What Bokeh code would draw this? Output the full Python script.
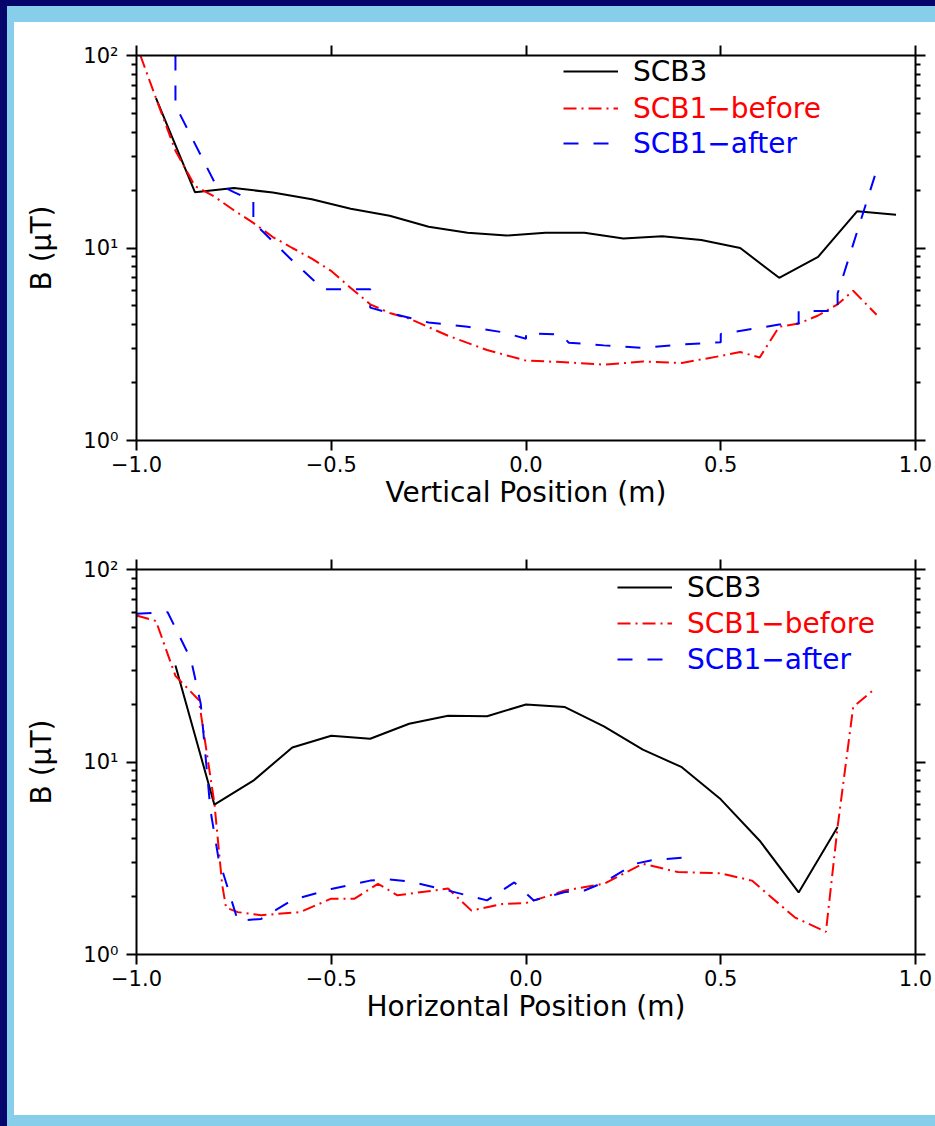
from bokeh.plotting import figure
from bokeh.models import (Range1d, LinearAxis, LogAxis, FixedTicker,
                          CustomJSTickFormatter, Legend, LegendItem, Spacer)
from bokeh.layouts import column, row
from bokeh.embed import file_html
from bokeh.resources import INLINE

# ---------------- data: vertical scan (top panel) ----------------
v_scb3_x = [-0.95, -0.85, -0.75, -0.65, -0.55, -0.45, -0.35, -0.25, -0.15, -0.05,
            0.05, 0.15, 0.25, 0.35, 0.45, 0.55, 0.65, 0.75, 0.85, 0.95]
v_scb3_b = [60, 19.5, 20.5, 19.4, 17.9, 16.0, 14.7, 12.9, 12.0, 11.6,
            12.0, 12.0, 11.2, 11.5, 11.0, 10.0, 7.0, 9.0, 15.5, 14.9]

v_before_x = [-0.99, -0.95, -0.90, -0.85, -0.80, -0.75, -0.70, -0.65, -0.60, -0.55,
              -0.50, -0.45, -0.40, -0.35, -0.30, -0.20, -0.10, 0.0, 0.10, 0.20,
              0.30, 0.40, 0.50, 0.55, 0.60, 0.65, 0.70, 0.75, 0.80, 0.84, 0.90]
v_before_b = [100, 60, 32, 21, 18.5, 15.7, 13.5, 11.4, 10.0, 8.8,
              7.6, 6.2, 5.1, 4.6, 4.3, 3.5, 2.95, 2.6, 2.55, 2.48,
              2.57, 2.53, 2.75, 2.88, 2.7, 3.9, 4.05, 4.46, 5.1, 6.0, 4.5]

v_after_x = [-0.90, -0.90, -0.80, -0.75, -0.70, -0.70, -0.60, -0.52, -0.40, -0.40,
             -0.35, -0.25, -0.15, -0.06, 0.0, 0.0, 0.09, 0.11, 0.20, 0.30,
             0.40, 0.50, 0.50, 0.60, 0.65, 0.70, 0.70, 0.80, 0.80, 0.90]
v_after_b = [100, 55, 22, 19.5, 17.5, 13.6, 8.6, 6.1, 6.1, 4.9,
             4.6, 4.1, 3.9, 3.65, 3.38, 3.6, 3.55, 3.22, 3.12, 3.03,
             3.15, 3.24, 3.58, 3.85, 4.0, 4.05, 4.7, 4.7, 5.8, 25.3]

# ---------------- data: horizontal scan (bottom panel) ----------------
h_scb3_x = [-0.9, -0.8, -0.7, -0.6, -0.5, -0.4, -0.3, -0.2, -0.1, 0.0,
            0.1, 0.2, 0.3, 0.4, 0.5, 0.6, 0.7, 0.8]
h_scb3_b = [31.7, 6.0, 8.0, 11.9, 13.7, 13.2, 15.8, 17.4, 17.3, 19.9,
            19.3, 15.3, 11.6, 9.4, 6.4, 3.9, 2.1, 4.6]

h_before_x = [-1.0, -0.95, -0.90, -0.84, -0.80, -0.78, -0.77, -0.74, -0.68, -0.58,
              -0.50, -0.44, -0.38, -0.33, -0.20, -0.14, -0.06, 0.0, 0.10, 0.20,
              0.30, 0.39, 0.50, 0.58, 0.69, 0.77, 0.80, 0.84, 0.89]
h_before_b = [57.7, 54, 28, 21, 6.1, 2.3, 1.75, 1.66, 1.6, 1.66,
              1.95, 1.95, 2.33, 2.03, 2.2, 1.69, 1.83, 1.85, 2.15, 2.33,
              2.96, 2.68, 2.64, 2.42, 1.56, 1.31, 4.6, 19.3, 23.5]

h_after_x = [-1.0, -0.92, -0.86, -0.835, -0.81, -0.79, -0.74, -0.68, -0.60, -0.50,
             -0.40, -0.35, -0.30, -0.20, -0.10, -0.03, 0.02, 0.10, 0.15, 0.20,
             0.28, 0.32, 0.40]
h_after_b = [58.9, 60, 34, 20, 5.6, 3.2, 1.5, 1.53, 1.92, 2.19,
             2.42, 2.45, 2.4, 2.15, 1.91, 2.37, 1.91, 2.11, 2.15, 2.37,
             2.96, 3.08, 3.18]

x_ticks = [-1.0, -0.5, 0.0, 0.5, 1.0]
y_ticks = [1, 10, 100]
y_minor = [2, 3, 4, 5, 6, 7, 8, 9, 20, 30, 40, 50, 60, 70, 80, 90]
labels = ["SCB3", "SCB1\u2212before", "SCB1\u2212after"]

FONT = "DejaVu Sans"
LIGHT_BLUE = "#87CEEB"
NAVY = "#05056B"


def style_axis(ax, show_labels, fmt=None):
    ax.axis_line_width = 2
    ax.axis_line_color = "black"
    ax.major_tick_line_width = 2
    ax.minor_tick_line_width = 2
    ax.major_tick_out = 10
    ax.major_tick_in = 0
    ax.minor_tick_out = 5
    ax.minor_tick_in = 0
    ax.major_label_text_font = FONT
    ax.major_label_text_font_size = "21px"
    ax.major_label_text_color = "black"
    ax.axis_label_text_font = FONT
    ax.axis_label_text_font_size = "28px"
    ax.axis_label_text_font_style = "normal"
    ax.axis_label_text_color = "black"
    if show_labels:
        ax.formatter = fmt
    else:
        ax.formatter = CustomJSTickFormatter(code="return '';")


def make_panel(height, top, bottom, xlabel, data, leg_x, leg_ys):
    p = figure(width=921, height=height, x_axis_type="linear", y_axis_type="log",
               x_range=Range1d(-1.0, 1.0), y_range=Range1d(1, 100),
               output_backend="svg", toolbar_location=None,
               min_border_left=122, min_border_right=20,
               min_border_top=top, min_border_bottom=bottom,
               background_fill_color="white", border_fill_color="white",
               outline_line_color=None)
    p.xgrid.grid_line_color = None
    p.ygrid.grid_line_color = None

    xfmt = CustomJSTickFormatter(code="return tick.toFixed(1).replace('-', '\u2212');")
    yfmt = CustomJSTickFormatter(
        code="const e = Math.round(Math.log10(tick)); return '10' + ['\u2070','\u00b9','\u00b2'][e];")

    xb = p.xaxis[0]
    xb.ticker = FixedTicker(ticks=x_ticks, minor_ticks=[])
    style_axis(xb, True, xfmt)
    xb.axis_label = xlabel
    xb.major_label_standoff = 5
    xb.axis_label_standoff = 1

    yl = p.yaxis[0]
    yl.ticker = FixedTicker(ticks=y_ticks, minor_ticks=y_minor)
    style_axis(yl, True, yfmt)
    yl.axis_label = "B (\u03bcT)"
    yl.major_label_standoff = 8
    yl.axis_label_standoff = 22

    xt = LinearAxis(ticker=FixedTicker(ticks=x_ticks, minor_ticks=[]))
    style_axis(xt, False)
    p.add_layout(xt, "above")

    yr = LogAxis(ticker=FixedTicker(ticks=y_ticks, minor_ticks=y_minor))
    style_axis(yr, False)
    p.add_layout(yr, "right")

    (sx, sb), (bx, bb), (ax_, ab) = data
    r1 = p.line(sx, sb, line_color="black", line_width=2)
    r2 = p.line(bx, bb, line_color="red", line_width=2, line_dash="13 5 2 5")
    r3 = p.line(ax_, ab, line_color="blue", line_width=2, line_dash="15 15")

    for r, lab, col, ly in zip([r1, r2, r3], labels, ["black", "red", "blue"], leg_ys):
        leg = Legend(items=[LegendItem(label=lab, renderers=[r])],
                     location=(leg_x, ly), orientation="vertical",
                     padding=0, margin=0, spacing=0,
                     glyph_width=55, glyph_height=36, label_height=36,
                     label_standoff=15,
                     label_text_font=FONT, label_text_font_size="28px",
                     label_text_color=col,
                     border_line_color=None, background_fill_alpha=0)
        p.add_layout(leg)
    return p


p1 = make_panel(508, 33, 90, "Vertical Position (m)",
                [(v_scb3_x, v_scb3_b), (v_before_x, v_before_b), (v_after_x, v_after_b)],
                427, [351, 314, 279])
p2 = make_panel(585, 39, 161, "Horizontal Position (m)",
                [(h_scb3_x, h_scb3_b), (h_before_x, h_before_b), (h_after_x, h_after_b)],
                481, [349, 313, 277])

navy = {"background-color": NAVY}
blue = {"background-color": LIGHT_BLUE}

layout = column(
    Spacer(width=935, height=6, styles=navy),
    row(
        Spacer(width=7, height=1120, styles=navy),
        column(
            Spacer(width=928, height=16, styles=blue),
            row(Spacer(width=7, height=1093, styles=blue), column(p1, p2)),
            Spacer(width=928, height=11, styles=blue),
        ),
    ),
)

open("out.html", "w").write(file_html(layout, INLINE))
